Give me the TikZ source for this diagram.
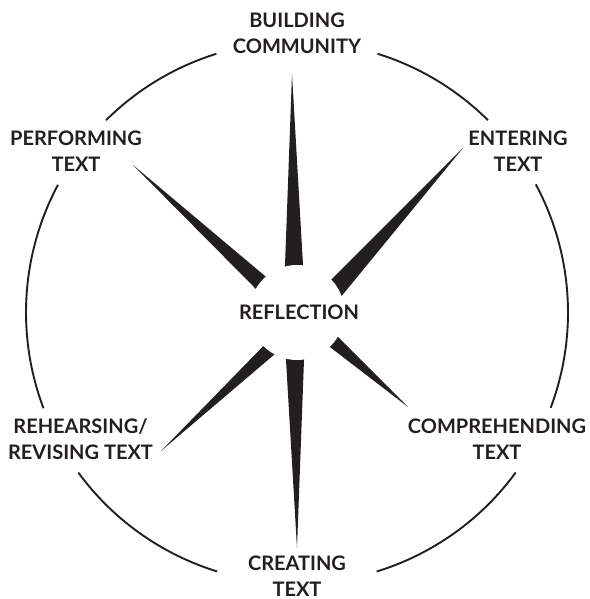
\documentclass[tikz,border=0pt]{standalone}
\usepackage{fontspec}
\setmainfont{Lato}
\usetikzlibrary{calc}
\definecolor{ink}{HTML}{231F20}
\tikzset{
  label/.style={font=\fontsize{20}{26.5}\selectfont\bfseries, text=ink,
    align=center, anchor=base, inner sep=0pt},
  ring/.style={draw=ink, line width=1.9pt},
  spike/.style={fill=ink}
}
% one spike: tip, base centre, half width at the base
\newcommand{\spikefrom}[3]{%
  \coordinate (p1) at ($(#2)!#3!90:(#1)$);
  \coordinate (p2) at ($(#2)!#3!-90:(#1)$);
  \fill[spike] (#1) -- ($(#1)!1.3!(p1)$) -- ($(#1)!1.3!(p2)$) -- cycle;}
\begin{document}
\begin{tikzpicture}[x=1pt,y=1pt]
\useasboundingbox (0,0) rectangle (589,599);
\coordinate (c) at (297,286.5);

% outer ring, broken where the labels sit
\draw[ring] ($(c)+(107.3:271)$) arc[start angle=107.3, end angle=134.8, radius=271];
\draw[ring] ($(c)+(45.2:271)$) arc[start angle=45.2, end angle=72.7, radius=271];
\draw[ring] ($(c)+(151.9:271)$) arc[start angle=151.9, end angle=200.7, radius=271];
\draw[ring] ($(c)+(-20.6:271)$) arc[start angle=-20.6, end angle=28.2, radius=271];
\draw[ring] ($(c)+(216.2:271)$) arc[start angle=216.2, end angle=252.9, radius=271];
\draw[ring] ($(c)+(287.1:271)$) arc[start angle=287.1, end angle=323.8, radius=271];

% spike tips and base centres
\coordinate (tN) at (292,525);  \coordinate (bN) at (294,334);
\coordinate (tS) at (297,51);   \coordinate (bS) at (295,239);
\coordinate (tNW) at (133,434); \coordinate (bNW) at (260,317);
\coordinate (tNE) at (463,451); \coordinate (bNE) at (337,312);
\coordinate (tSE) at (408,192); \coordinate (bSE) at (334,257);
\coordinate (tSW) at (161,148); \coordinate (bSW) at (268,248);

\spikefrom{tN}{bN}{9pt}
\spikefrom{tS}{bS}{9pt}
\spikefrom{tNW}{bNW}{7.8pt}
\spikefrom{tNE}{bNE}{9.3pt}
\spikefrom{tSE}{bSE}{6.5pt}
\spikefrom{tSW}{bSW}{6.8pt}

% clear hub around the centre
\fill[white] (c) circle[radius=47.5];

% labels, placed by the baseline of their last line
\node[label] (refl) at (299,279) {REFLECTION};
\node[label] (build) at (297,545) {BUILDING\\COMMUNITY};
\node[label] (perf) at (76,427) {PERFORMING\\TEXT};
\node[label] (enter) at (518,427) {ENTERING\\TEXT};
\node[label] (rehe) at (80.5,139) {REHEARSING/\\REVISING TEXT};
\node[label] (comp) at (497,139) {COMPREHENDING\\TEXT};
\node[label, text depth=0pt] (crea) at (297,2) {CREATING\\TEXT};
\end{tikzpicture}
\end{document}
